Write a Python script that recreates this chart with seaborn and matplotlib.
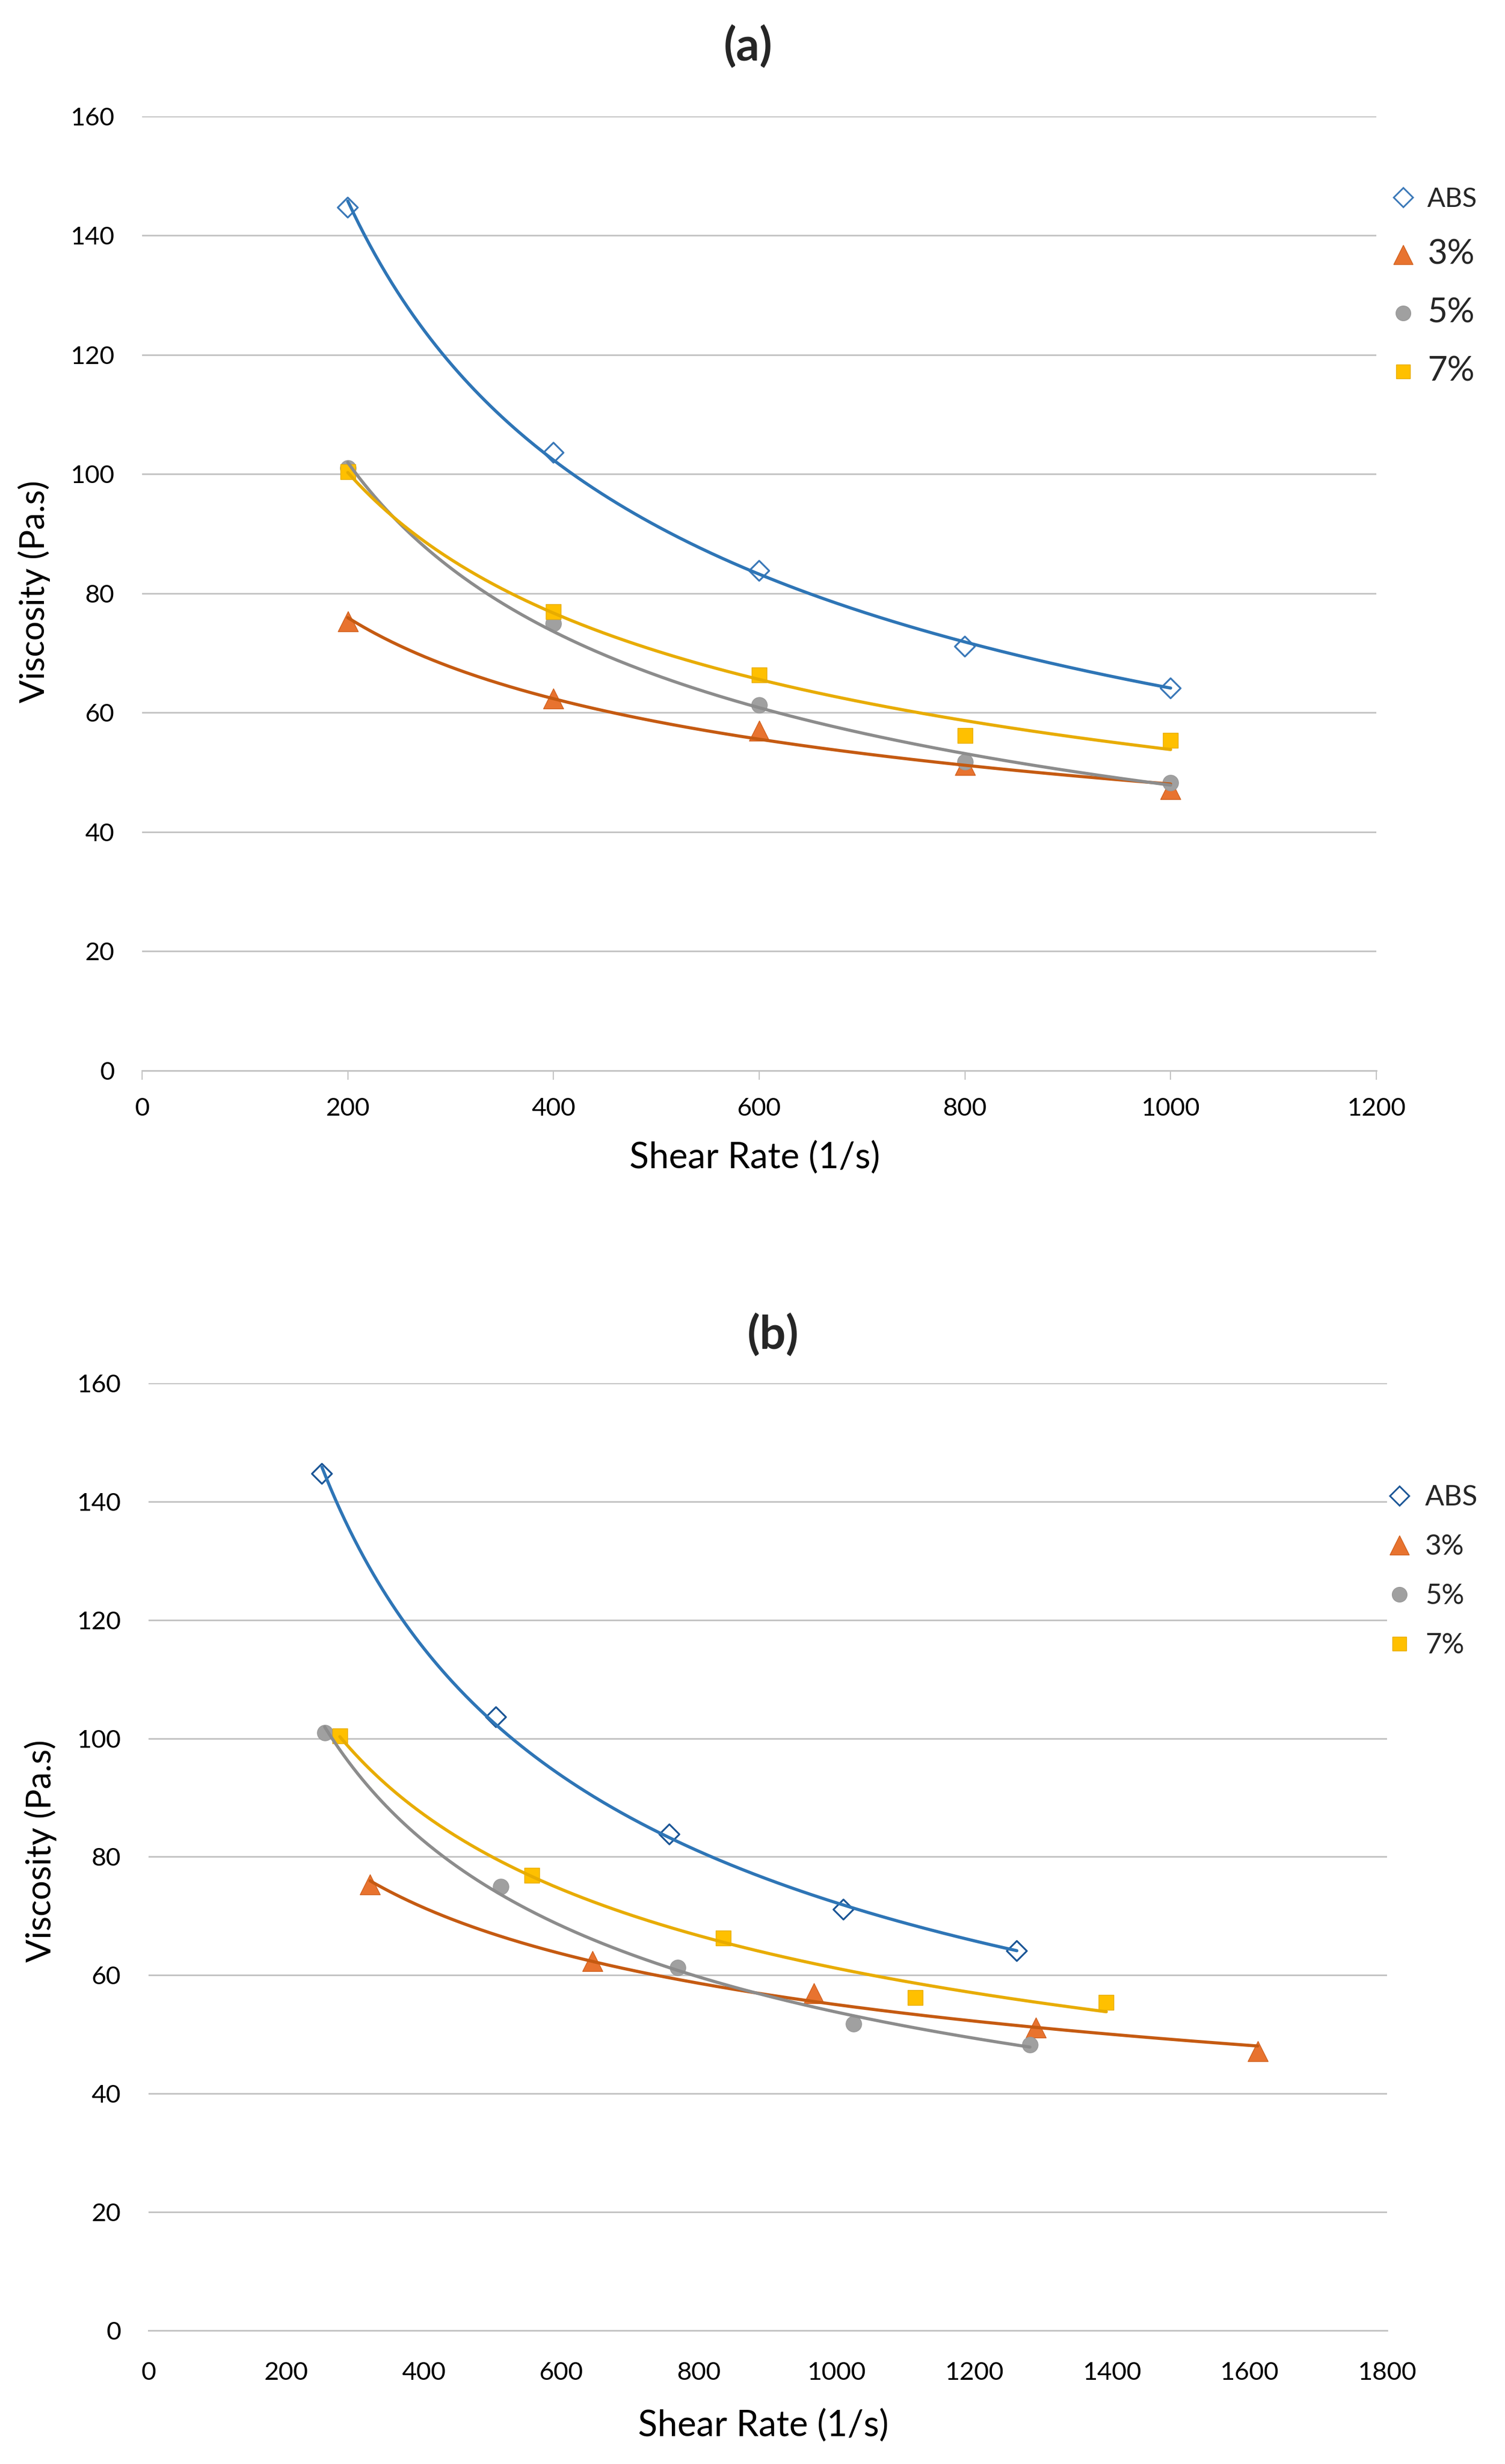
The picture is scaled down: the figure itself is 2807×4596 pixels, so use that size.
import numpy as np
import pandas as pd
import seaborn as sns
import matplotlib.pyplot as plt
from matplotlib.lines import Line2D

# series names
series = ["ABS", "3%", "5%", "7%"]

# panel (a): apparent shear rate (1/s)
rate_a = [200, 400, 600, 800, 1000]

# viscosity (Pa.s)
visc_abs = [144.7, 103.6, 83.8, 71.1, 64.1]
visc_3 = [75.3, 62.4, 57.0, 51.2, 47.2]
visc_5 = [101.0, 75.0, 61.3, 51.8, 48.3]
visc_7 = [100.4, 76.9, 66.3, 56.2, 55.4]

# panel (b): corrected shear rate (1/s) for each sample
rate_b_abs = [252, 505, 757, 1010, 1262]
rate_b_3 = [322, 645, 967, 1290, 1612]
rate_b_5 = [256, 512, 769, 1025, 1281]
rate_b_7 = [278, 557, 835, 1114, 1392]

visc = {"ABS": visc_abs, "3%": visc_3, "5%": visc_5, "7%": visc_7}
rates_b = {"ABS": rate_b_abs, "3%": rate_b_3, "5%": rate_b_5, "7%": rate_b_7}

line_col = {"ABS": "#2E75B6", "3%": "#C55A11", "5%": "#8C8C8C", "7%": "#E8AC00"}
face_col = {"ABS": "none", "3%": "#E8732F", "5%": "#A0A0A0", "7%": "#FFC000"}
edge_col = {"ABS": "#3A78B8", "3%": "#D0601E", "5%": "#999999", "7%": "#E6AC00"}
markers = {"ABS": "D", "3%": "^", "5%": "o", "7%": "s"}
msize = {"ABS": 19, "3%": 27, "5%": 21, "7%": 20}

sns.set_style("white")
plt.rcParams["font.family"] = ["Lato", "DejaVu Sans"]

fig = plt.figure(figsize=(28.07, 45.96), dpi=100)
ax_a = fig.add_axes([0.0944, 0.5655, 0.8201, 0.3873])
ax_b = fig.add_axes([0.0987, 0.05418, 0.8229, 0.38446])

grid_col = "#C4C4C4"


def draw_panel(ax, rate_of, xmax, ticks_on, abs_edge):
    for name in series:
        x = np.array(rate_of[name], dtype=float)
        y = np.array(visc[name], dtype=float)
        df = pd.DataFrame({"rate": x, "visc": y})
        ec = abs_edge if name == "ABS" else edge_col[name]
        sns.scatterplot(data=df, x="rate", y="visc", ax=ax, marker=markers[name],
                        s=msize[name] ** 2, facecolor=face_col[name], edgecolor=ec,
                        linewidth=2.4 if name == "ABS" else 1.0, zorder=3, legend=False)
        # power trendline (Excel style)
        b, a = np.polyfit(np.log(x), np.log(y), 1)
        xx = np.linspace(x.min(), x.max(), 300)
        yy = np.exp(a) * xx ** b
        sns.lineplot(x=xx, y=yy, ax=ax, color=line_col[name], linewidth=4.2,
                     zorder=4, legend=False)

    ax.set_xlim(0, xmax)
    ax.set_ylim(0, 160)
    ax.set_xticks(np.arange(0, xmax + 1, 200))
    ax.set_yticks(np.arange(0, 161, 20))
    ax.yaxis.grid(True, color=grid_col, linewidth=2.2)
    ax.xaxis.grid(False)
    for s in ["top", "right", "left"]:
        ax.spines[s].set_visible(False)
    ax.spines["bottom"].set_color(grid_col)
    ax.spines["bottom"].set_linewidth(2.2)
    ax.tick_params(axis="y", length=0, pad=37, labelsize=34, labelcolor="black")
    if ticks_on:
        ax.tick_params(axis="x", length=12, width=1.6, color=grid_col, pad=24,
                       labelsize=34, labelcolor="black", direction="out", bottom=True)
    else:
        ax.tick_params(axis="x", length=0, pad=42, labelsize=34, labelcolor="black")
    ax.set_xlabel("Shear Rate (1/s)", fontsize=48, color="black")
    ax.set_ylabel("Viscosity (Pa.s)", fontsize=46, color="black")
    ax.xaxis.label.set_va("center")
    ax.yaxis.label.set_va("center")


draw_panel(ax_a, {k: rate_a for k in series}, 1200, True, edge_col["ABS"])
draw_panel(ax_b, rates_b, 1800, False, "#1A5596")

ax_a.xaxis.set_label_coords(0.4965, -0.0915)
ax_a.yaxis.set_label_coords(-0.0873, 0.502)
ax_b.xaxis.set_label_coords(0.4965, -0.1005)
ax_b.yaxis.set_label_coords(-0.087, 0.506)

fig.text(0.497, 0.981, "(a)", fontsize=62, fontweight="bold", ha="center", va="center")
fig.text(0.5136, 0.458, "(b)", fontsize=62, fontweight="bold", ha="center", va="center")


def legend_handles(abs_edge):
    hs = []
    for name in series:
        ec = abs_edge if name == "ABS" else edge_col[name]
        hs.append(Line2D([], [], linestyle="none", marker=markers[name],
                         markersize=msize[name] * 0.95, markerfacecolor=face_col[name],
                         markeredgecolor=ec, markeredgewidth=2.2 if name == "ABS" else 1.0))
    return hs


leg_a = ax_a.legend(legend_handles(edge_col["ABS"]), series, loc="center left",
                    bbox_to_anchor=(0.9235, 0.8835), bbox_transform=fig.transFigure,
                    frameon=False, fontsize=36, handlelength=1.0, handletextpad=0.4,
                    labelspacing=1.02, borderpad=0, borderaxespad=0)
for t in leg_a.get_texts()[1:]:
    t.set_fontsize(46)

leg_b = ax_b.legend(legend_handles("#1A5596"), series, loc="center left",
                    bbox_to_anchor=(0.9205, 0.3621), bbox_transform=fig.transFigure,
                    frameon=False, fontsize=38, handlelength=1.0, handletextpad=0.4,
                    labelspacing=0.85, borderpad=0, borderaxespad=0)

fig.savefig("out.png", dpi=100, facecolor="white")
